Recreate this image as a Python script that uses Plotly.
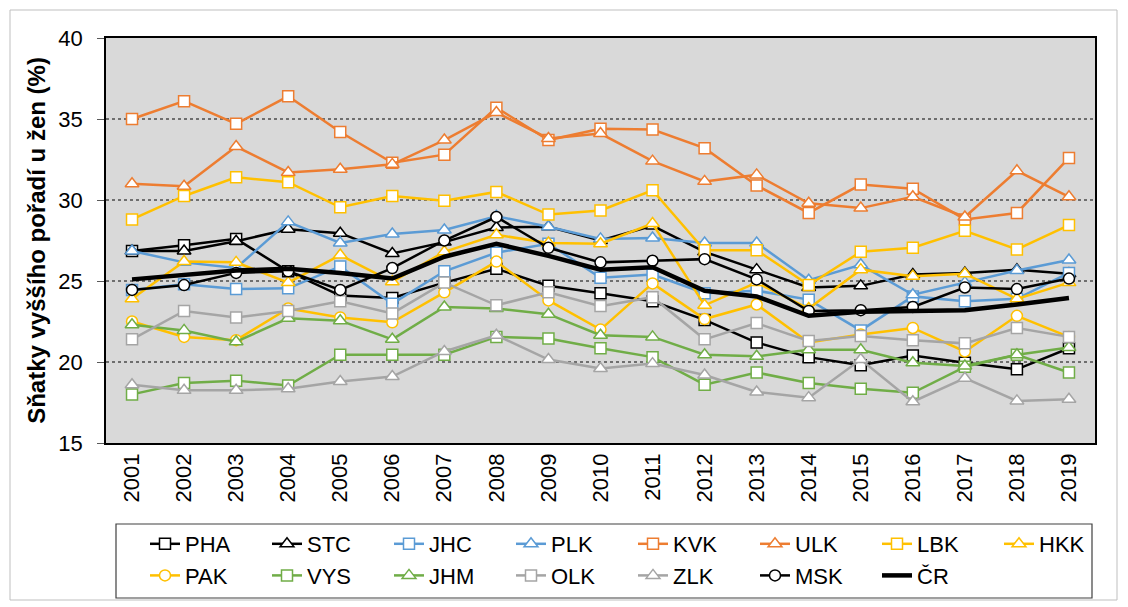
import plotly.graph_objects as go

years = [str(y) for y in range(2001, 2020)]

PHA = [26.85, 27.2, 27.6, 25.6, 24.1, 23.95, 24.9, 25.75, 24.7, 24.25, 23.75, 22.6, 21.2, 20.3, 19.8, 20.4, 19.95, 19.55, 20.85]
STC = [26.85, 26.85, 27.45, 28.2, 27.95, 26.7, 27.4, 28.3, 28.35, 27.5, 28.4, 26.8, 25.7, 24.6, 24.7, 25.4, 25.5, 25.7, 25.45]
JHC = [24.45, 24.8, 24.5, 24.55, 25.9, 23.6, 25.6, 26.75, 27.3, 25.2, 25.4, 24.25, 24.4, 23.85, 21.95, 24.05, 23.75, 23.9, 25.5]
PLK = [26.85, 26.15, 25.8, 28.65, 27.35, 27.9, 28.15, 29.0, 28.35, 27.6, 27.65, 27.35, 27.35, 25.05, 26.0, 24.15, 24.9, 25.65, 26.3]
KVK = [35.0, 36.1, 34.7, 36.4, 34.2, 32.3, 32.8, 35.7, 33.7, 34.4, 34.35, 33.2, 30.9, 29.2, 30.95, 30.7, 28.8, 29.2, 32.6]
ULK = [31.0, 30.85, 33.3, 31.7, 31.9, 32.2, 33.7, 35.4, 33.8, 34.1, 32.4, 31.15, 31.55, 29.8, 29.5, 30.2, 28.95, 31.8, 30.2]
LBK = [28.8, 30.25, 31.4, 31.1, 29.55, 30.25, 29.95, 30.5, 29.1, 29.35, 30.6, 26.9, 26.9, 24.75, 26.8, 27.05, 28.1, 26.95, 28.45]
HKK = [23.9, 26.2, 26.15, 24.9, 26.6, 24.95, 26.8, 27.85, 27.35, 27.3, 28.55, 23.5, 24.9, 23.3, 25.7, 25.3, 25.45, 23.9, 24.9]
PAK = [22.5, 21.55, 21.35, 23.3, 22.75, 22.45, 24.3, 26.2, 23.8, 22.0, 24.85, 22.65, 23.55, 21.2, 21.7, 22.1, 20.65, 22.85, 21.55]
VYS = [18.0, 18.7, 18.85, 18.55, 20.45, 20.45, 20.45, 21.55, 21.45, 20.85, 20.3, 18.6, 19.35, 18.7, 18.35, 18.1, 19.7, 20.45, 19.35]
JHM = [22.3, 21.95, 21.25, 22.7, 22.55, 21.4, 23.4, 23.3, 22.95, 21.65, 21.55, 20.45, 20.35, 20.75, 20.75, 19.95, 19.75, 20.45, 20.9]
OLK = [21.4, 23.15, 22.75, 23.15, 23.75, 23.0, 24.9, 23.5, 24.3, 23.45, 24.0, 21.4, 22.4, 21.3, 21.6, 21.35, 21.15, 22.1, 21.55]
ZLK = [18.6, 18.25, 18.25, 18.35, 18.8, 19.1, 20.65, 21.65, 20.15, 19.6, 19.9, 19.2, 18.15, 17.8, 20.15, 17.55, 19.0, 17.6, 17.7]
MSK = [24.45, 24.75, 25.5, 25.6, 24.45, 25.8, 27.5, 28.95, 27.05, 26.15, 26.25, 26.35, 25.1, 23.15, 23.2, 23.4, 24.6, 24.5, 25.15]
CR = [25.1, 25.4, 25.65, 25.75, 25.5, 25.15, 26.5, 27.3, 26.55, 25.7, 25.85, 24.4, 24.05, 22.85, 23.1, 23.15, 23.2, 23.55, 23.95]

BLACK = "#000000"
BLUE = "#5B9BD5"
ORANGE = "#ED7D31"
YELLOW = "#FFC000"
GREEN = "#70AD47"
GREY = "#A5A5A5"

series = [
    ("PHA", PHA, BLACK, "square"),
    ("STC", STC, BLACK, "triangle-up"),
    ("JHC", JHC, BLUE, "square"),
    ("PLK", PLK, BLUE, "triangle-up"),
    ("KVK", KVK, ORANGE, "square"),
    ("ULK", ULK, ORANGE, "triangle-up"),
    ("LBK", LBK, YELLOW, "square"),
    ("HKK", HKK, YELLOW, "triangle-up"),
    ("PAK", PAK, YELLOW, "circle"),
    ("VYS", VYS, GREEN, "square"),
    ("JHM", JHM, GREEN, "triangle-up"),
    ("OLK", OLK, GREY, "square"),
    ("ZLK", ZLK, GREY, "triangle-up"),
    ("MSK", MSK, BLACK, "circle"),
]

FONT = "Liberation Sans, Arial, sans-serif"

fig = go.Figure()
for name, vals, color, sym in series:
    size = 12 if sym == "triangle-up" else 11
    fig.add_trace(go.Scatter(
        x=years, y=vals, name=name, mode="lines+markers",
        line=dict(color=color, width=2.5),
        marker=dict(symbol=sym, size=size, color="white",
                    line=dict(color=color, width=1.5)),
    ))
fig.add_trace(go.Scatter(
    x=years, y=CR, name="ČR", mode="lines",
    line=dict(color=BLACK, width=4.5),
))

W, H = 1128, 607
L, R, T, B = 106, 33, 38, 164
pw, ph = W - L - R, H - T - B

def px(x):
    return (x - L) / pw

def py(y):
    return (H - B - y) / ph

fig.update_layout(
    width=W, height=H,
    margin=dict(l=L, r=R, t=T, b=B, autoexpand=False),
    paper_bgcolor="white",
    plot_bgcolor="#D9D9D9",
    font=dict(family=FONT, size=22, color="black"),
    showlegend=True,
    legend=dict(
        orientation="h",
        x=px(145), y=py(523), xanchor="left", yanchor="top",
        entrywidth=77, entrywidthmode="pixels",
        font=dict(family=FONT, size=22, color="black"),
        bgcolor="rgba(0,0,0,0)", borderwidth=0,
        traceorder="normal",
    ),
    xaxis=dict(
        type="category", range=[-0.5, 18.5],
        tickangle=-90, tickfont=dict(size=22),
        showgrid=False, showline=True, linecolor="black", linewidth=1.5,
        mirror=True, ticks="", zeroline=False,
    ),
    yaxis=dict(
        range=[15, 40], dtick=5, tick0=15,
        tickfont=dict(size=22),
        showgrid=True, gridcolor="#6E6E6E", gridwidth=1.5, griddash="dot",
        showline=True, linecolor="black", linewidth=1.5, mirror=True,
        ticks="outside", ticklen=7, tickcolor="#595959", zeroline=False,
        ticklabelstandoff=10,
        title=dict(text="<b>Sňatky vyššího pořadí u žen (%)</b>",
                   font=dict(size=24), standoff=6),
    ),
    shapes=[
        dict(type="rect", xref="paper", yref="paper",
             x0=px(116), x1=px(1092), y0=py(598), y1=py(524),
             line=dict(color="#404040", width=1.2), fillcolor="rgba(0,0,0,0)"),
        dict(type="rect", xref="paper", yref="paper",
             x0=px(10), x1=px(1117), y0=py(600), y1=py(10),
             line=dict(color="#BFBFBF", width=1), fillcolor="rgba(0,0,0,0)"),
    ],
)

fig.write_html("out.html",
               config={"displayModeBar": False},
               post_script="document.body.style.margin='0';document.body.style.overflow='hidden';")
